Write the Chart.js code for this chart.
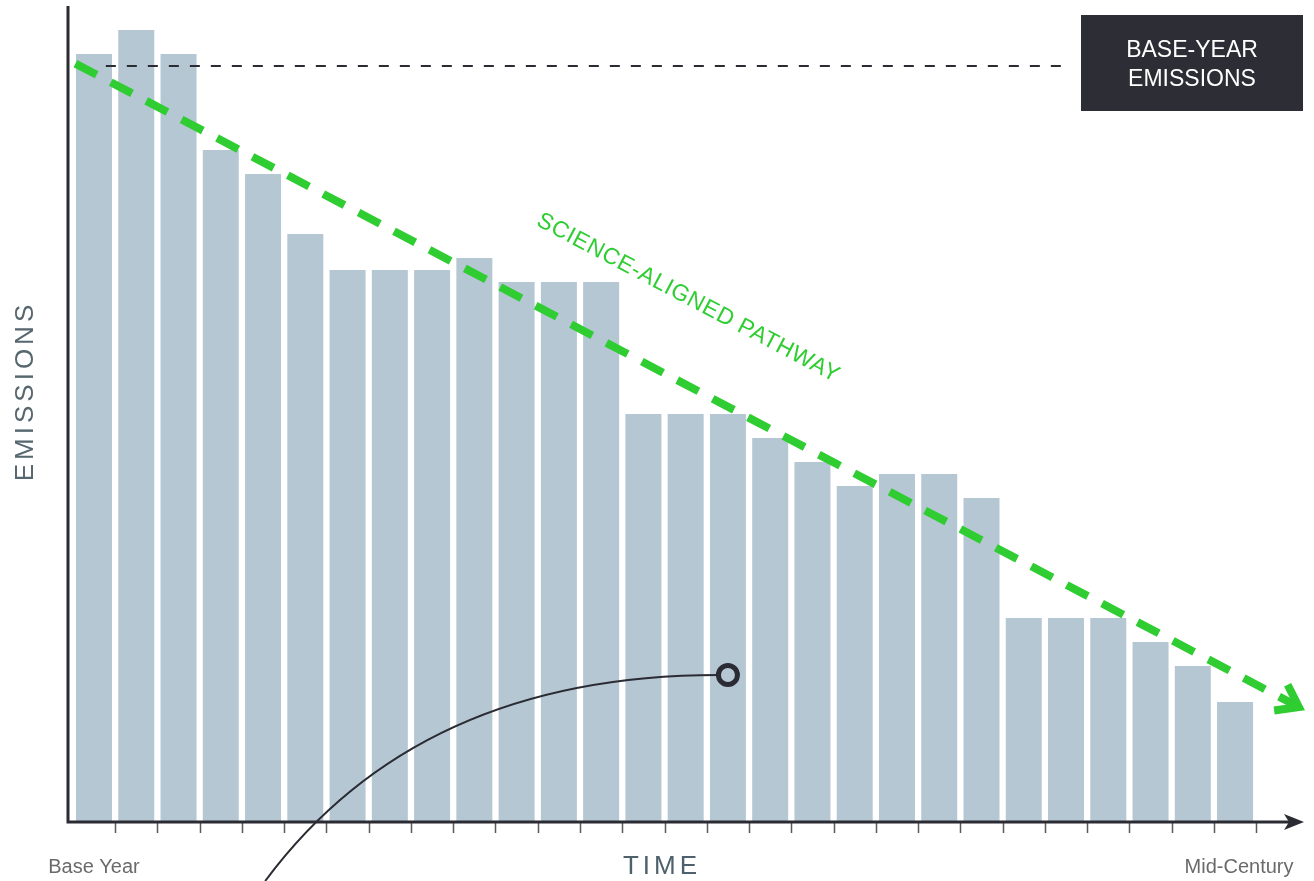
<!DOCTYPE html>
<html lang="en">
<head>
    <meta charset="UTF-8">
    <meta name="viewport" content="width=device-width, initial-scale=1.0">
    <script src="https://cdn.jsdelivr.net/npm/chart.js@4"></script>
    <title>Emissions vs science-aligned pathway</title>
    <style>
        html, body { margin: 0; padding: 0; background: #fff; }
        canvas { display: block; }
    </style>
</head>
<body>
    <canvas id="myChart" width="1314" height="881"></canvas>
    <script>
    // one bar per reporting period, base year to mid-century
    const periods = ['Base Year', 'Y1', 'Y2', 'Y3', 'Y4', 'Y5', 'Y6', 'Y7', 'Y8', 'Y9',
        'Y10', 'Y11', 'Y12', 'Y13', 'Y14', 'Y15', 'Y16', 'Y17', 'Y18', 'Y19',
        'Y20', 'Y21', 'Y22', 'Y23', 'Y24', 'Y25', 'Y26', 'Mid-Century'];
    const emissions = [32, 33, 32, 28, 27, 24.5, 23, 23, 23, 23.5, 22.5, 22.5, 22.5, 17,
        17, 17, 16, 15, 14, 14.5, 14.5, 13.5, 8.5, 8.5, 8.5, 7.5, 6.5, 5];
    const yMax = 34;

    // base-year reference line (x in category units)
    const baseYear = 31.5;
    const baseLineX = [0.28, 23.05];

    // science-aligned pathway, start and arrow tip
    const pathwayX = [-0.44, 28.51];
    const pathwayY = [31.6, 4.79];

    // callout curve ending in a ring on one bar
    const calloutX = [4.05, 7.67, 15];
    const calloutY = [-2.46, 6.125, 6.125];

    const ink = '#2b2b33';
    const green = '#2fcd32';
    const barColor = '#b5c7d3';

    const decorations = {
        id: 'decorations',
        afterDatasetsDraw(chart) {
            const ctx = chart.ctx;
            const area = chart.chartArea;
            const x = chart.scales.xl;
            const y = chart.scales.y;
            ctx.save();

            // tick marks between bars
            ctx.strokeStyle = '#5a5a5e';
            ctx.lineWidth = 1.5;
            ctx.beginPath();
            for (let i = 1; i <= periods.length; i++) {
                const px = Math.round(x.getPixelForValue(i - 0.5)) + 0.5;
                ctx.moveTo(px, area.bottom);
                ctx.lineTo(px, area.bottom + 11);
            }
            ctx.stroke();

            // axes
            ctx.strokeStyle = ink;
            ctx.lineWidth = 3;
            ctx.beginPath();
            ctx.moveTo(68, area.top);
            ctx.lineTo(68, area.bottom + 1.5);
            ctx.moveTo(66.5, area.bottom);
            ctx.lineTo(1290, area.bottom);
            ctx.stroke();
            ctx.fillStyle = ink;
            ctx.beginPath();
            ctx.moveTo(1304, area.bottom);
            ctx.lineTo(1284, area.bottom - 8);
            ctx.lineTo(1289, area.bottom);
            ctx.lineTo(1284, area.bottom + 8);
            ctx.closePath();
            ctx.fill();

            // pathway arrow head
            const pts = chart.getDatasetMeta(0).data;
            const tip = pts[pts.length - 1];
            const prev = pts[pts.length - 2];
            const ang = Math.atan2(tip.y - prev.y, tip.x - prev.x);
            const arm = 25, spread = 0.62;
            ctx.strokeStyle = green;
            ctx.lineWidth = 8;
            ctx.lineJoin = 'miter';
            ctx.lineCap = 'butt';
            ctx.beginPath();
            ctx.moveTo(tip.x - arm * Math.cos(ang - spread), tip.y - arm * Math.sin(ang - spread));
            ctx.lineTo(tip.x, tip.y);
            ctx.lineTo(tip.x - arm * Math.cos(ang + spread), tip.y - arm * Math.sin(ang + spread));
            ctx.stroke();

            // pathway label
            ctx.save();
            ctx.translate(x.getPixelForValue(14.06), y.getPixelForValue(21.83));
            ctx.rotate(ang);
            ctx.fillStyle = green;
            ctx.font = '23px "Liberation Sans", Arial, sans-serif';
            ctx.textAlign = 'center';
            ctx.textBaseline = 'middle';
            ctx.letterSpacing = '0.6px';
            ctx.fillText('SCIENCE-ALIGNED PATHWAY', 0, 0);
            ctx.restore();

            // callout curve and ring
            const cx = calloutX.map(v => x.getPixelForValue(v));
            const cy = calloutY.map(v => y.getPixelForValue(v));
            const r = 9.5;
            ctx.strokeStyle = ink;
            ctx.lineWidth = 2;
            ctx.beginPath();
            ctx.moveTo(cx[0], cy[0]);
            ctx.quadraticCurveTo(cx[1], cy[1], cx[2] - r, cy[2]);
            ctx.stroke();
            ctx.lineWidth = 5;
            ctx.beginPath();
            ctx.arc(cx[2], cy[2], r, 0, Math.PI * 2);
            ctx.stroke();

            // base-year box
            const by = y.getPixelForValue(baseYear);
            ctx.fillStyle = '#2d2d35';
            ctx.fillRect(1081, by - 51, 222, 96);
            ctx.fillStyle = '#ffffff';
            ctx.font = '23px "Liberation Sans", Arial, sans-serif';
            ctx.textAlign = 'center';
            ctx.textBaseline = 'alphabetic';
            ctx.fillText('BASE-YEAR', 1192, by - 9);
            ctx.fillText('EMISSIONS', 1192, by + 20);

            // axis texts
            ctx.fillStyle = '#6a6a6a';
            ctx.font = '20px "Liberation Sans", Arial, sans-serif';
            ctx.fillText(periods[0], x.getPixelForValue(0), 873);
            ctx.fillText(periods[periods.length - 1], x.getPixelForValue(periods.length - 1) + 4, 873);

            ctx.fillStyle = '#4e606b';
            ctx.font = '26px "Liberation Sans", Arial, sans-serif';
            ctx.letterSpacing = '4px';
            ctx.fillText('TIME', 662, 874);

            ctx.save();
            ctx.translate(33, 391);
            ctx.rotate(-Math.PI / 2);
            ctx.fillStyle = '#56676f';
            ctx.fillText('EMISSIONS', 0, 0);
            ctx.restore();

            ctx.restore();
        }
    };

    const ctx = document.getElementById('myChart').getContext('2d');
    const myChart = new Chart(ctx, {
        data: {
            labels: periods,
            datasets: [
                {
                    type: 'line',
                    label: 'Science-aligned pathway',
                    xAxisID: 'xl',
                    data: pathwayX.map((v, i) => ({ x: v, y: pathwayY[i] })),
                    borderColor: green,
                    borderWidth: 8,
                    borderDash: [24, 16],
                    borderCapStyle: 'butt',
                    pointRadius: 0,
                    clip: false,
                    order: 0
                },
                {
                    type: 'line',
                    label: 'Base-year emissions',
                    xAxisID: 'xl',
                    data: baseLineX.map(v => ({ x: v, y: baseYear })),
                    borderColor: ink,
                    borderWidth: 2,
                    borderDash: [10, 11],
                    pointRadius: 0,
                    clip: false,
                    order: 1
                },
                {
                    type: 'bar',
                    label: 'Emissions',
                    xAxisID: 'x',
                    data: emissions,
                    backgroundColor: barColor,
                    grouped: false,
                    categoryPercentage: 1,
                    barPercentage: 0.852,
                    order: 2
                }
            ]
        },
        options: {
            responsive: false,
            animation: false,
            layout: { padding: { left: 72.87, right: 57.8, top: 6, bottom: 59 } },
            plugins: { legend: { display: false }, tooltip: { enabled: false } },
            scales: {
                x: { type: 'category', display: false, offset: true },
                xl: { type: 'linear', display: false, min: -0.5, max: periods.length - 0.5 },
                y: { display: false, min: 0, max: yMax }
            }
        },
        plugins: [decorations]
    });
    </script>
</body>
</html>
